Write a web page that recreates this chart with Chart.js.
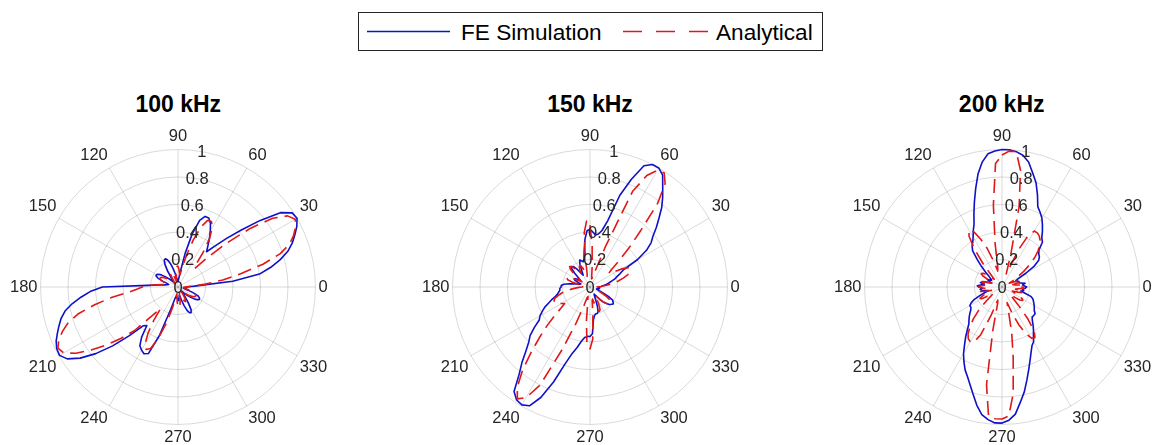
<!DOCTYPE html>
<html>
<head>
<meta charset="utf-8">
<title>Directivity patterns</title>
<script src="https://cdn.jsdelivr.net/npm/chart.js@4/dist/chart.umd.min.js"></script>
<style>
  html, body { margin: 0; padding: 0; width: 1156px; height: 445px; overflow: hidden; background: #fff; }
  .panel { position: absolute; top: 120px; width: 336px; height: 336px; }
  svg text { font-family: "Liberation Sans", Arial, Helvetica, sans-serif; fill: #000; }
</style>
</head>
<body>

<svg width="1156" height="125" style="position:absolute;left:0;top:0">
  <rect x="358.5" y="12.5" width="464" height="38" fill="#fff" stroke="#262626" stroke-width="1"/>
  <line x1="367" y1="31.5" x2="450" y2="31.5" stroke="#1010c8" stroke-width="1.6"/>
  <text x="461" y="39.5" font-size="22.6">FE Simulation</text>
  <line x1="623" y1="31.5" x2="708" y2="31.5" stroke="#e01818" stroke-width="1.6" stroke-dasharray="19 14"/>
  <text x="716" y="39.5" font-size="22.6">Analytical</text>
  <text x="178.3" y="111.5" font-size="23" font-weight="bold" text-anchor="middle">100 kHz</text>
  <text x="590" y="111.5" font-size="23" font-weight="bold" text-anchor="middle">150 kHz</text>
  <text x="1001.7" y="111.5" font-size="23" font-weight="bold" text-anchor="middle">200 kHz</text>
</svg>

<div class="panel" style="left:1px"><canvas id="p100" width="336" height="336"></canvas></div>
<div class="panel" style="left:413px"><canvas id="p150" width="336" height="336"></canvas></div>
<div class="panel" style="left:825px"><canvas id="p200" width="336" height="336"></canvas></div>

<script>
// Sample angles (degrees, counter-clockwise from 0 = east)
const ANGLES = [
  0, 3, 6, 9, 12, 15, 18, 21, 24, 27,
  30, 33, 36, 39, 42, 45, 48, 51, 54, 57,
  60, 63, 66, 69, 72, 75, 78, 81, 84, 87,
  90, 93, 96, 99, 102, 105, 108, 111, 114, 117,
  120, 123, 126, 129, 132, 135, 138, 141, 144, 147,
  150, 153, 156, 159, 162, 165, 168, 171, 174, 177,
  180, 183, 186, 189, 192, 195, 198, 201, 204, 207,
  210, 213, 216, 219, 222, 225, 228, 231, 234, 237,
  240, 243, 246, 249, 252, 255, 258, 261, 264, 267,
  270, 273, 276, 279, 282, 285, 288, 291, 294, 297,
  300, 303, 306, 309, 312, 315, 318, 321, 324, 327,
  330, 333, 336, 339, 342, 345, 348, 351, 354, 357
];

// Spoke labels and radial tick values
const SPOKES = [0, 30, 60, 90, 120, 150, 180, 210, 240, 270, 300, 330];
const R_TICKS = [0, 0.2, 0.4, 0.6, 0.8, 1];
const R_LABEL_ANGLE = 80;

// Normalised amplitude, one value per entry of ANGLES
const fe100 = [
  0.06, 0.12, 0.40, 0.60, 0.69, 0.77, 0.84, 0.89, 0.93, 0.97,
  1.00, 0.99, 0.92, 0.77, 0.62, 0.50, 0.40, 0.33, 0.37, 0.42,
  0.47, 0.52, 0.55, 0.55, 0.51, 0.40, 0.25, 0.12, 0.07, 0.05,
  0.04, 0.04, 0.05, 0.07, 0.10, 0.14, 0.18, 0.21, 0.225, 0.22,
  0.19, 0.14, 0.09, 0.06, 0.05, 0.06, 0.09, 0.12, 0.15, 0.17,
  0.18, 0.18, 0.16, 0.12, 0.08, 0.07, 0.08, 0.10, 0.14, 0.22,
  0.55, 0.64, 0.71, 0.78, 0.84, 0.88, 0.91, 0.94, 0.97, 0.99,
  0.995, 0.96, 0.88, 0.77, 0.64, 0.50, 0.38, 0.36, 0.45, 0.51,
  0.53, 0.545, 0.53, 0.38, 0.17, 0.09, 0.07, 0.07, 0.08, 0.08,
  0.09, 0.10, 0.08, 0.06, 0.07, 0.10, 0.14, 0.18, 0.205, 0.21,
  0.19, 0.14, 0.09, 0.05, 0.04, 0.06, 0.09, 0.12, 0.15, 0.17,
  0.18, 0.175, 0.16, 0.12, 0.08, 0.05, 0.04, 0.05, 0.06, 0.06
];
const an100 = [
  0.05, 0.10, 0.20, 0.33, 0.47, 0.64, 0.78, 0.87, 0.92, 0.96,
  0.985, 0.95, 0.85, 0.68, 0.48, 0.30, 0.18, 0.20, 0.31, 0.42,
  0.50, 0.535, 0.53, 0.47, 0.36, 0.24, 0.14, 0.09, 0.10, 0.13,
  0.15, 0.15, 0.13, 0.09, 0.05, 0.04, 0.06, 0.09, 0.11, 0.12,
  0.11, 0.08, 0.05, 0.03, 0.03, 0.05, 0.07, 0.09, 0.11, 0.13,
  0.14, 0.145, 0.14, 0.13, 0.10, 0.08, 0.08, 0.11, 0.16, 0.22,
  0.26, 0.30, 0.36, 0.49, 0.62, 0.75, 0.84, 0.90, 0.95, 0.98,
  0.96, 0.885, 0.78, 0.67, 0.56, 0.45, 0.28, 0.20, 0.30, 0.40,
  0.48, 0.51, 0.49, 0.40, 0.28, 0.16, 0.08, 0.05, 0.07, 0.11,
  0.14, 0.15, 0.14, 0.10, 0.05, 0.04, 0.06, 0.09, 0.11, 0.12,
  0.11, 0.08, 0.05, 0.03, 0.03, 0.05, 0.07, 0.09, 0.11, 0.13,
  0.14, 0.145, 0.14, 0.13, 0.11, 0.08, 0.06, 0.05, 0.04, 0.04
];
const fe150 = [
  0.06, 0.08, 0.10, 0.12, 0.14, 0.16, 0.19, 0.21, 0.24, 0.27,
  0.40, 0.49, 0.55, 0.59, 0.65, 0.71, 0.78, 0.84, 0.90, 0.97,
  1.00, 1.00, 0.965, 0.84, 0.70, 0.50, 0.42, 0.39, 0.38, 0.40,
  0.42, 0.41, 0.35, 0.27, 0.21, 0.19, 0.20, 0.21, 0.18, 0.13,
  0.10, 0.12, 0.16, 0.19, 0.20, 0.19, 0.15, 0.11, 0.09, 0.10,
  0.12, 0.13, 0.12, 0.09, 0.07, 0.08, 0.11, 0.15, 0.19, 0.21,
  0.21, 0.22, 0.22, 0.23, 0.24, 0.26, 0.29, 0.32, 0.36, 0.39,
  0.42, 0.44, 0.50, 0.56, 0.60, 0.66, 0.74, 0.82, 0.94, 0.98,
  0.99, 0.97, 0.88, 0.74, 0.59, 0.50, 0.45, 0.40, 0.37, 0.36,
  0.36, 0.34, 0.24, 0.21, 0.20, 0.20, 0.19, 0.15, 0.10, 0.07,
  0.06, 0.07, 0.09, 0.12, 0.15, 0.17, 0.19, 0.20, 0.21, 0.20,
  0.19, 0.15, 0.10, 0.07, 0.05, 0.05, 0.06, 0.07, 0.07, 0.06
];
const an150 = [
  0.05, 0.08, 0.12, 0.17, 0.21, 0.25, 0.29, 0.31, 0.32, 0.31,
  0.26, 0.20, 0.17, 0.20, 0.28, 0.40, 0.55, 0.78, 0.93, 0.99,
  0.98, 0.91, 0.76, 0.32, 0.13, 0.08, 0.06, 0.08, 0.15, 0.30,
  0.45, 0.48, 0.40, 0.22, 0.10, 0.08, 0.11, 0.15, 0.17, 0.17,
  0.15, 0.12, 0.13, 0.17, 0.20, 0.21, 0.19, 0.14, 0.09, 0.07,
  0.09, 0.13, 0.16, 0.18, 0.17, 0.13, 0.08, 0.05, 0.04, 0.05,
  0.06, 0.09, 0.13, 0.17, 0.21, 0.24, 0.27, 0.28, 0.28, 0.27,
  0.24, 0.22, 0.26, 0.33, 0.42, 0.52, 0.64, 0.78, 0.90, 0.97,
  0.93, 0.80, 0.50, 0.28, 0.14, 0.08, 0.07, 0.10, 0.25, 0.42,
  0.45, 0.38, 0.20, 0.10, 0.09, 0.13, 0.17, 0.19, 0.18, 0.14,
  0.09, 0.07, 0.09, 0.12, 0.15, 0.17, 0.18, 0.19, 0.19, 0.17,
  0.14, 0.10, 0.07, 0.05, 0.04, 0.04, 0.05, 0.05, 0.05, 0.05
];
const fe200 = [
  0.18, 0.16, 0.15, 0.17, 0.14, 0.12, 0.13, 0.12, 0.11, 0.13,
  0.20, 0.28, 0.33, 0.35, 0.36, 0.38, 0.44, 0.46, 0.50, 0.54,
  0.58, 0.61, 0.64, 0.72, 0.80, 0.86, 0.93, 0.97, 0.99, 1.00,
  1.00, 0.99, 0.975, 0.92, 0.84, 0.74, 0.65, 0.57, 0.50, 0.46,
  0.42, 0.39, 0.37, 0.34, 0.27, 0.21, 0.16, 0.12, 0.10, 0.09,
  0.10, 0.12, 0.10, 0.08, 0.10, 0.14, 0.16, 0.13, 0.15, 0.18,
  0.17, 0.14, 0.16, 0.15, 0.12, 0.10, 0.13, 0.17, 0.22, 0.25,
  0.27, 0.27, 0.28, 0.30, 0.32, 0.34, 0.36, 0.40, 0.45, 0.50,
  0.56, 0.61, 0.66, 0.70, 0.75, 0.81, 0.88, 0.94, 0.97, 0.99,
  0.99, 0.97, 0.93, 0.85, 0.78, 0.70, 0.63, 0.57, 0.52, 0.48,
  0.46, 0.42, 0.39, 0.36, 0.33, 0.31, 0.31, 0.31, 0.29, 0.28,
  0.27, 0.26, 0.25, 0.24, 0.22, 0.17, 0.14, 0.16, 0.15, 0.17
];
const an200 = [
  0.15, 0.12, 0.14, 0.10, 0.08, 0.12, 0.15, 0.13, 0.08, 0.06,
  0.09, 0.14, 0.20, 0.26, 0.32, 0.37, 0.41, 0.44, 0.46, 0.47,
  0.47, 0.42, 0.30, 0.15, 0.10, 0.25, 0.60, 0.86, 0.99, 0.99,
  0.96, 0.90, 0.60, 0.32, 0.15, 0.12, 0.20, 0.30, 0.38, 0.45,
  0.48, 0.44, 0.34, 0.22, 0.12, 0.08, 0.10, 0.14, 0.17, 0.18,
  0.16, 0.11, 0.07, 0.08, 0.12, 0.15, 0.14, 0.10, 0.12, 0.16,
  0.17, 0.14, 0.11, 0.14, 0.16, 0.12, 0.08, 0.10, 0.15, 0.18,
  0.17, 0.12, 0.08, 0.10, 0.16, 0.24, 0.31, 0.37, 0.42, 0.45,
  0.46, 0.45, 0.38, 0.22, 0.10, 0.12, 0.32, 0.72, 0.94, 0.96,
  0.96, 0.94, 0.78, 0.52, 0.34, 0.18, 0.12, 0.20, 0.30, 0.38,
  0.43, 0.44, 0.40, 0.30, 0.18, 0.10, 0.08, 0.12, 0.16, 0.18,
  0.17, 0.13, 0.09, 0.08, 0.12, 0.16, 0.14, 0.10, 0.12, 0.16
];

const BLUE = '#1010c8';
const RED = '#e01818';
const GRID = 'rgba(0,0,0,0.15)';
const TEXT = '#262626';
const FONT = '"Liberation Sans", Arial, Helvetica, sans-serif';
const FONT_SIZE = 16.5;

// Radar indices run clockwise from the top; map them onto counter-clockwise angles
const n = ANGLES.length;
const k90 = ANGLES.indexOf(90);
const ORDER = ANGLES.map((_, i) => (k90 - i + n) % n);
const LABELS = ORDER.map(k => ANGLES[k]);

// Radial tick labels along the 80 degree direction, plus the centre "0"
const rTickLabels = {
  id: 'rTickLabels',
  afterDatasetsDraw(chart) {
    const s = chart.scales.r;
    const ctx = chart.ctx;
    const a = R_LABEL_ANGLE * Math.PI / 180;
    ctx.save();
    ctx.font = FONT_SIZE + 'px ' + FONT;
    ctx.fillStyle = TEXT;
    ctx.textAlign = 'center';
    ctx.textBaseline = 'middle';
    R_TICKS.forEach(v => {
      const d = s.getDistanceFromCenterForValue(v);
      ctx.fillText(String(v), s.xCenter + d * Math.cos(a), s.yCenter - d * Math.sin(a) + 1);
    });
    ctx.restore();
  }
};

function polarChart(id, fe, an) {
  return new Chart(document.getElementById(id), {
    type: 'radar',
    data: {
      labels: LABELS,
      datasets: [
        {
          label: 'FE Simulation',
          data: ORDER.map(k => fe[k]),
          borderColor: BLUE,
          borderWidth: 1.6,
          pointRadius: 0,
          fill: false,
          tension: 0,
          order: 1
        },
        {
          label: 'Analytical',
          data: ORDER.map(k => an[k]),
          borderColor: RED,
          borderWidth: 1.6,
          borderDash: [14, 7],
          pointRadius: 0,
          fill: false,
          tension: 0,
          order: 0
        }
      ]
    },
    options: {
      responsive: false,
      animation: false,
      devicePixelRatio: 1,
      events: [],
      plugins: { legend: { display: false }, tooltip: { enabled: false } },
      elements: { line: { borderJoinStyle: 'round' } },
      scales: {
        r: {
          min: 0,
          max: 1,
          startAngle: 0,
          ticks: { display: false, stepSize: 0.2 },
          grid: { circular: true, color: GRID, lineWidth: 1 },
          angleLines: {
            lineWidth: 1,
            color: c => SPOKES.includes(LABELS[c.index]) ? GRID : 'rgba(0,0,0,0)'
          },
          pointLabels: {
            display: true,
            padding: 3,
            color: TEXT,
            font: { family: FONT, size: FONT_SIZE },
            callback: lbl => SPOKES.includes(lbl) ? String(lbl) : ''
          }
        }
      }
    },
    plugins: [rTickLabels]
  });
}

polarChart('p100', fe100, an100);
polarChart('p150', fe150, an150);
polarChart('p200', fe200, an200);
</script>
</body>
</html>
